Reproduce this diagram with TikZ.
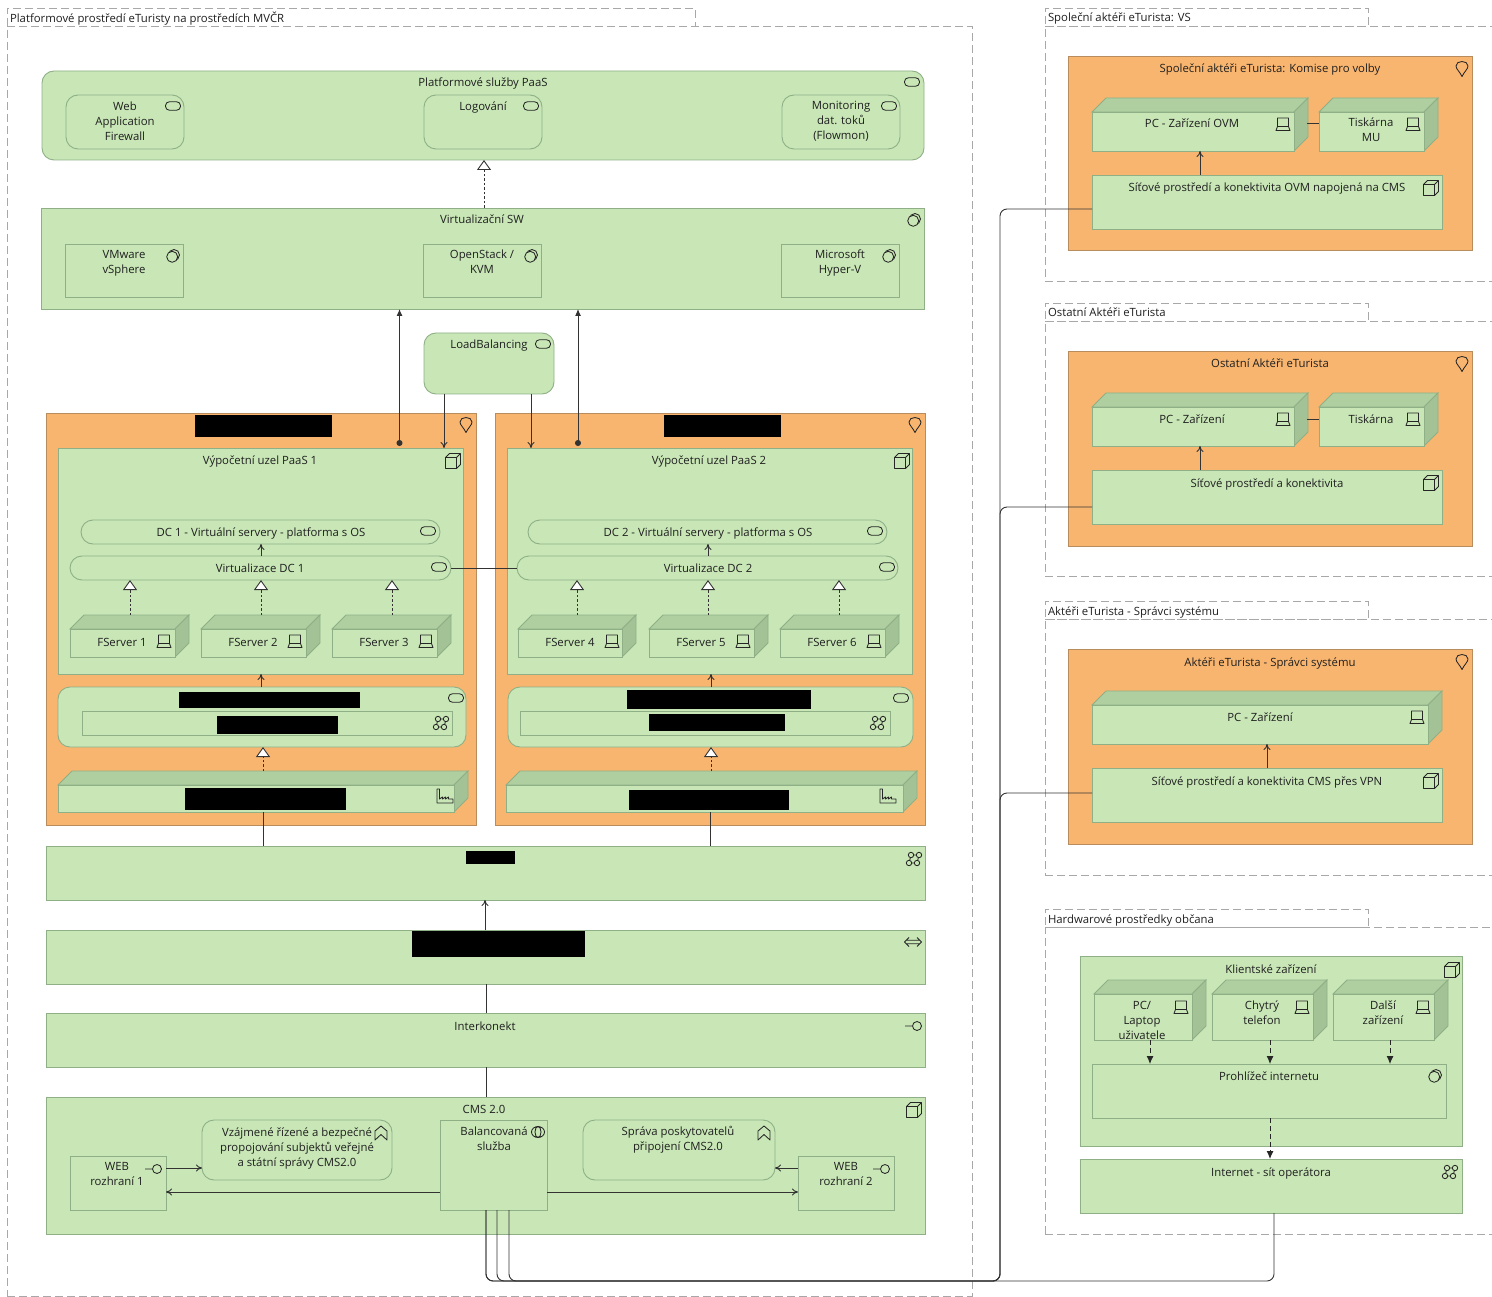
\documentclass[tikz,border=0pt]{standalone}
\usepackage{fontspec}
\setmainfont{Open Sans}
\usetikzlibrary{arrows.meta,calc}
\definecolor{gf}{HTML}{C8E6B6}
\definecolor{gs}{HTML}{8FB087}
\definecolor{gd}{HTML}{AFCFA0}
\definecolor{gdd}{HTML}{A3C396}
\definecolor{of}{HTML}{F8B56F}
\definecolor{os}{HTML}{B88C5C}
\definecolor{tc}{HTML}{1F1F1F}
\definecolor{lc}{HTML}{333333}
\definecolor{grp}{HTML}{A8A8A8}
\tikzset{
  greenbox/.style={draw=gs,fill=gf,line width=0.9pt},
  greenround/.style={greenbox,rounded corners=12pt},
  orangebox/.style={draw=os,fill=of,line width=0.9pt},
  hidebox/.style={fill=black},
  groupbox/.style={draw=grp,line width=0.7pt,dash pattern=on 8pt off 4pt},
  plainnode/.style={},
  txt/.style={text=tc,font=\fontsize{11.35}{15}\selectfont,align=center,inner sep=0pt,outer sep=0pt,yshift=-2pt,
     execute at begin node=\strut,execute at end node=\strut},
  grptxt/.style={txt,anchor=west},
  icon/.style={draw=black!85,line width=0.85pt,line join=round},
  conn/.style={draw=lc,line width=1pt},
  flow/.style={conn,-{To[length=6pt,width=7pt]}},
  solidhead/.style={conn,-{Latex[length=7pt,width=6pt]}},
  realize/.style={draw=lc,line width=0.9pt,dash pattern=on 2.5pt off 2pt,-{Triangle[open,fill=white,length=10pt,width=14pt,line width=0.9pt,sep=0pt]}},
  dashhead/.style={draw=black!85,line width=1pt,dash pattern=on 5pt off 3pt,-{Latex[length=8pt,width=7pt]}},
  dotted/.style={conn,{Circle[length=6pt]}-{Latex[length=7pt,width=6pt]}},
  bus/.style={draw=lc,line width=0.9pt,rounded corners=7pt},
}
\newcounter{lb}
\newcommand{\tx}[3]{\stepcounter{lb}\node[txt] (lb\arabic{lb}) at (#1,#2) {#3};}
\newcommand{\bxn}[6]{\node[#6,inner sep=0pt,outer sep=0pt,minimum width={(#4-#2)*1pt},minimum height={(#5-#3)*1pt}] (#1) at ({(#2+#4)/2},{(#3+#5)/2}) {};}
% 3D element: name, left, back top, back right, front bottom
\newcommand{\threed}[5]{%
 \bxn{#1}{#2}{#3}{#4}{#5}{plainnode}
 \fill[gf] ({#2},{#3+14}) rectangle ({#4-14},#5);
 \draw[greenbox,fill=gd] (#2,{#3+14}) -- ({#2+14},#3) -- (#4,#3) -- ({#4-14},{#3+14}) -- cycle;
 \draw[greenbox,fill=gdd] ({#4-14},{#3+14}) -- (#4,#3) -- (#4,{#5-14}) -- ({#4-14},#5) -- cycle;
 \draw[greenbox,fill=gf] (#2,{#3+14}) rectangle ({#4-14},#5);
}
% group: name, left, tabtop, tabright, bodytop, bodyright, bodybottom, title
\newcommand{\grpb}[8]{%
 \bxn{#1}{#2}{#3}{#4}{#5}{groupbox}
 \bxn{#1b}{#2}{#5}{#6}{#7}{groupbox}
 \stepcounter{lb}\node[grptxt] (lb\arabic{lb}) at ({#2+3},{(#3+#5)/2}) {#8};
}
\newcommand{\icpill}[2]{\draw[icon,rounded corners=3.8pt,shift={(#1,#2)}] (-7.5,-4.2) rectangle (7.5,4.2);}
\newcommand{\icdev}[2]{\draw[icon,shift={(#1,#2)}] (-5.5,2.5) -- (-5.5,-6) -- (5.5,-6) -- (5.5,2.5) -- cycle (-5.5,2.5) -- (-7,6.5) -- (7,6.5) -- (5.5,2.5);}
\newcommand{\iccube}[2]{\draw[icon,shift={(#1,#2)}] (-7.5,-3.5) rectangle (3.5,7.5) (-7.5,-3.5) -- (-3.5,-7.5) -- (7.5,-7.5) -- (7.5,3.5) -- (3.5,7.5) (3.5,-3.5) -- (7.5,-7.5);}
\newcommand{\icpin}[2]{\draw[icon,shift={(#1,#2)}] (0,7.5) .. controls (-2,3) and (-6,0) .. (-6,-3) .. controls (-6,-6) and (-3,-7.5) .. (0,-7.5) .. controls (3,-7.5) and (6,-6) .. (6,-3) .. controls (6,0) and (2,3) .. (0,7.5) -- cycle;}
\newcommand{\icsys}[2]{\draw[icon,shift={(#1,#2)}] (1,-1) circle[radius=5.5pt];\draw[icon,fill=gf,shift={(#1,#2)}] (-0.8,0.8) circle[radius=5.5pt];}
\newcommand{\icnet}[2]{\draw[icon,shift={(#1,#2)}] (-3,-4) -- (5,-4) -- (3,4) -- (-5,4) -- cycle;
 \draw[icon,fill=gf,shift={(#1,#2)}] (-3,-4) circle[radius=2.7pt] (5,-4) circle[radius=2.7pt] (3,4) circle[radius=2.7pt] (-5,4) circle[radius=2.7pt];}
\newcommand{\icfac}[2]{\draw[icon,shift={(#1,#2)}] (-8,7) -- (-8,-7) -- (-5.5,-7) -- (-5.5,3) -- (-2.5,1) -- (-2.5,3) -- (0.5,1) -- (0.5,3) -- (3.5,1) -- (3.5,3) -- (8,3) -- (8,7) -- cycle;}
\newcommand{\icint}[2]{\draw[icon,shift={(#1,#2)}] (-12,0) -- (-4.5,0) (0,0) circle[radius=4.5pt];}
\newcommand{\icfunc}[2]{\draw[icon,shift={(#1,#2)}] (-6,7) -- (-6,-2) -- (0,-7) -- (6,-2) -- (6,7) -- (0,1.5) -- cycle;}
\newcommand{\icpath}[2]{\draw[icon,shift={(#1,#2)}] (-4,-4.5) -- (-8.5,0) -- (-4,4.5) (4,-4.5) -- (8.5,0) -- (4,4.5) (-6.5,-1.7) -- (6.5,-1.7) (-6.5,1.7) -- (6.5,1.7);}
\newcommand{\icbal}[2]{\draw[icon,shift={(#1,#2)}] (0,0) circle[x radius=6.5pt,y radius=5.5pt] (0,0) circle[x radius=3pt,y radius=5.5pt];}
\begin{document}
\begin{tikzpicture}[x=1pt,y=-1pt]
\useasboundingbox (0,0) rectangle (1492,1297);
\fill[white] (0,0) rectangle (1492,1297);
% ---- groups
\grpb{g1}{7}{8}{695}{26}{972}{1296}{Platformové prostředí eTuristy na prostředích MVČR}
\grpb{g2}{1045}{8}{1368}{26}{1510}{281}{Společní aktéři eTurista: VS}
\grpb{g3}{1045}{303}{1368}{321}{1510}{576}{Ostatní Aktéři eTurista}
\grpb{g4}{1045}{601}{1368}{619}{1510}{875}{Aktéři eTurista - Správci systému}
\grpb{g5}{1045}{909}{1368}{927}{1510}{1234}{Hardwarové prostředky občana}
% ---- PaaS
\bxn{paas}{42}{71}{924}{160}{greenround}
\tx{483}{82}{Platformové služby PaaS}\icpill{912}{82}
\bxn{waf}{66}{95}{184}{149}{greenround}
\tx{125}{121}{Web\\Application\\Firewall}\icpill{173}{106}
\bxn{logov}{424}{95}{542}{149}{greenround}
\tx{483}{106}{Logování}\icpill{531}{106}
\bxn{monit}{782}{95}{900}{149}{greenround}
\tx{841}{121}{Monitoring\\dat. toků\\(Flowmon)}\icpill{889}{106}
% ---- Virtualization
\bxn{virt}{41}{208}{924}{309}{greenbox}
\tx{482}{219}{Virtualizační SW}\icsys{914}{220}
\bxn{vmw}{65}{244}{183}{297}{greenbox}
\tx{124}{262}{VMware\\vSphere}\icsys{173}{256}
\bxn{ostk}{423}{244}{541}{297}{greenbox}
\tx{482}{262}{OpenStack /\\KVM}\icsys{531}{256}
\bxn{hyper}{781}{244}{899}{297}{greenbox}
\tx{840}{262}{Microsoft\\Hyper-V}\icsys{889}{256}
\bxn{lbal}{424}{333}{554}{394}{greenround}
\tx{489}{344}{LoadBalancing}\icpill{543}{344}
% ---- Location 1
\bxn{loc1}{46}{413}{476}{825}{orangebox}
\bxn{hide1}{195}{415}{332}{437}{hidebox}\icpin{466}{425}
\bxn{comp1}{58}{448}{463}{674}{greenbox}
\tx{260}{459}{Výpočetní uzel PaaS 1}\iccube{453}{461}
\bxn{dc1}{81}{520}{440}{544}{greenround}
\tx{261}{531}{DC 1 - Virtuální servery - platforma s OS}\icpill{428}{531}
\bxn{vdc1}{70}{556}{451}{580}{greenround}
\tx{260}{567}{Virtualizace DC 1}\icpill{439}{567}
\threed{fs1}{70}{615}{189}{657}\tx{122}{641}{FServer 1}\icdev{164}{641}
\threed{fs2}{201}{615}{320}{657}\tx{253}{641}{FServer 2}\icdev{295}{641}
\threed{fs3}{332}{615}{451}{657}\tx{384}{641}{FServer 3}\icdev{426}{641}
\bxn{svc1}{58}{687}{466}{747}{greenround}
\bxn{snet1}{82}{711}{452}{735}{greenbox}
\bxn{hide2}{179}{692}{360}{708}{hidebox}
\bxn{hide3}{217}{716}{338}{734}{hidebox}\icpill{456}{698}\icnet{441}{723}
\threed{fac1}{58}{771}{468}{812}
\bxn{hide4}{185}{788}{346}{810}{hidebox}\icfac{445}{796}
% ---- Location 2
\bxn{loc2}{495}{413}{925}{825}{orangebox}
\bxn{hide5}{664}{415}{781}{437}{hidebox}\icpin{915}{425}
\bxn{comp2}{507}{448}{912}{674}{greenbox}
\tx{709}{459}{Výpočetní uzel PaaS 2}\iccube{902}{461}
\bxn{dc2}{528}{520}{887}{544}{greenround}
\tx{708}{531}{DC 2 - Virtuální servery - platforma s OS}\icpill{875}{531}
\bxn{vdc2}{517}{556}{898}{580}{greenround}
\tx{708}{567}{Virtualizace DC 2}\icpill{887}{567}
\threed{fs4}{518}{615}{636}{657}\tx{570}{641}{FServer 4}\icdev{612}{641}
\threed{fs5}{649}{615}{768}{657}\tx{701}{641}{FServer 5}\icdev{743}{641}
\threed{fs6}{780}{615}{899}{657}\tx{832}{641}{FServer 6}\icdev{874}{641}
\bxn{svc2}{508}{687}{913}{747}{greenround}
\bxn{snet2}{520}{711}{890}{735}{greenbox}
\bxn{hide6}{627}{690}{811}{709}{hidebox}
\bxn{hide7}{649}{714}{785}{731}{hidebox}\icpill{901}{698}\icnet{878}{723}
\threed{fac2}{506}{771}{917}{812}
\bxn{hide8}{629}{790}{789}{810}{hidebox}\icfac{888}{796}
% ---- lower stack
\bxn{netb}{46}{846}{925}{900}{greenbox}
\bxn{hide9}{466}{851}{515}{864}{hidebox}\icnet{914}{859}
\bxn{pathb}{46}{930}{925}{984}{greenbox}
\bxn{hide10}{412}{931}{585}{957}{hidebox}\icpath{913}{942}
\bxn{inter}{46}{1013}{925}{1067}{greenbox}
\tx{485}{1025}{Interkonekt}\icint{917}{1026}
\bxn{cms}{46}{1097}{925}{1234}{greenbox}
\tx{484}{1108}{CMS 2.0}\iccube{914}{1110}
\bxn{web1}{70}{1156}{166}{1210}{greenbox}
\tx{117}{1174}{WEB\\rozhraní 1}\icint{157}{1169}
\bxn{func1}{202}{1120}{392}{1180}{greenround}
\tx{297}{1147}{Vzájmené řízené a bezpečné\\propojování subjektů veřejné\\a státní správy CMS2.0}\icfunc{381}{1133}
\bxn{bal}{440}{1120}{547}{1210}{greenbox}
\tx{494}{1139}{Balancovaná\\služba}\icbal{538}{1132}
\bxn{func2}{583}{1120}{775}{1180}{greenround}
\tx{678}{1139}{Správa poskytovatelů\\připojení CMS2.0}\icfunc{764}{1133}
\bxn{web2}{798}{1156}{894}{1210}{greenbox}
\tx{846}{1174}{WEB\\rozhraní 2}\icint{885}{1169}
% ---- right: VS
\bxn{loca}{1068}{56}{1472}{250}{orangebox}
\tx{1270}{68}{Společní aktéři eTurista: Komise pro volby}\icpin{1462}{69}
\threed{pca}{1092}{98}{1308}{151}\tx{1192}{123}{PC - Zařízení OVM}\icdev{1283}{124}
\threed{tia}{1319}{98}{1438}{151}\tx{1371}{130}{Tiskárna\\MU}\icdev{1413}{124}
\bxn{neta}{1092}{175}{1442}{229}{greenbox}
\tx{1267}{187}{Síťové prostředí a konektivita OVM napojená na CMS}\iccube{1431}{188}
% ---- right: Ostatni
\bxn{locb}{1068}{351}{1472}{546}{orangebox}
\tx{1270}{362}{Ostatní Aktéři eTurista}\icpin{1462}{364}
\threed{pcb}{1092}{393}{1308}{446}\tx{1192}{418}{PC - Zařízení}\icdev{1283}{419}
\threed{tib}{1319}{393}{1438}{446}\tx{1371}{418}{Tiskárna}\icdev{1413}{419}
\bxn{netc}{1092}{470}{1442}{524}{greenbox}
\tx{1267}{482}{Síťové prostředí a konektivita}\iccube{1431}{483}
% ---- right: Spravci
\bxn{locc}{1068}{649}{1472}{844}{orangebox}
\tx{1270}{661}{Aktéři eTurista - Správci systému}\icpin{1462}{662}
\threed{pcc}{1092}{691}{1442}{744}\tx{1260}{716}{PC - Zařízení}\icdev{1417}{717}
\bxn{netd}{1092}{768}{1442}{822}{greenbox}
\tx{1267}{780}{Síťové prostředí a konektivita CMS přes VPN}\iccube{1431}{781}
% ---- right: Hardware
\bxn{klient}{1080}{956}{1462}{1146}{greenbox}
\tx{1271}{968}{Klientské zařízení}\iccube{1452}{970}
\threed{cpc}{1094}{980}{1206}{1040}\tx{1142}{1021}{PC/\\Laptop\\uživatele}\icdev{1181}{1007}
\threed{cph}{1212}{980}{1327}{1040}\tx{1262}{1013}{Chytrý\\telefon}\icdev{1302}{1007}
\threed{cot}{1333}{980}{1448}{1040}\tx{1383}{1013}{Další\\zařízení}\icdev{1423}{1007}
\bxn{prohl}{1092}{1064}{1446}{1118}{greenbox}
\tx{1269}{1075}{Prohlížeč internetu}\icsys{1435}{1076}
\bxn{inet}{1080}{1159}{1462}{1213}{greenbox}
\tx{1271}{1171}{Internet - sít operátora}\icnet{1450}{1172}
% ---- connectors
\draw[realize] (484,0 |- virt.north) -- (484,0 |- paas.south);
\draw[dotted] (399.5,0 |- comp1.north) ++(0,-2) -- (399.5,0 |- virt.south);
\draw[dotted] (578,0 |- comp2.north) ++(0,-2) -- (578,0 |- virt.south);
\draw[flow] (444,0 |- lbal.south) -- (444,0 |- comp1.north);
\draw[flow] (531,0 |- lbal.south) -- (531,0 |- comp2.north);
\draw[flow] (261,0 |- vdc1.north) -- (261,0 |- dc1.south);
\draw[flow] (708,0 |- vdc2.north) -- (708,0 |- dc2.south);
\draw[conn] (vdc1.east) -- (vdc2.west);
\draw[realize] (130,0 |- fs1.north) -- (130,0 |- vdc1.south);
\draw[realize] (261,0 |- fs2.north) -- (261,0 |- vdc1.south);
\draw[realize] (392,0 |- fs3.north) -- (392,0 |- vdc1.south);
\draw[realize] (577,0 |- fs4.north) -- (577,0 |- vdc2.south);
\draw[realize] (708,0 |- fs5.north) -- (708,0 |- vdc2.south);
\draw[realize] (839,0 |- fs6.north) -- (839,0 |- vdc2.south);
\draw[flow] (261,0 |- svc1.north) -- (261,0 |- comp1.south);
\draw[flow] (711,0 |- svc2.north) -- (711,0 |- comp2.south);
\draw[realize] (263,0 |- fac1.north) -- (263,0 |- svc1.south);
\draw[realize] (711,0 |- fac2.north) -- (711,0 |- svc2.south);
\draw[conn] (263,0 |- fac1.south) -- (263,0 |- netb.north);
\draw[conn] (710,0 |- fac2.south) -- (710,0 |- netb.north);
\draw[flow] (485,0 |- pathb.north) -- (485,0 |- netb.south);
\draw[conn] (486,0 |- pathb.south) -- (486,0 |- inter.north);
\draw[conn] (486,0 |- inter.south) -- (486,0 |- cms.north);
\draw[flow] (web1.east |- 0,1168) -- (func1.west |- 0,1168);
\draw[flow] (bal.west |- 0,1192) -- (web1.east |- 0,1192);
\draw[flow] (bal.east |- 0,1192) -- (web2.west |- 0,1192);
\draw[flow] (web2.west |- 0,1168) -- (func2.east |- 0,1168);
\coordinate (busturn) at (1000,1281);
\draw[bus] (486,0 |- bal.south) |- (busturn) |- (neta.west |- 0,209);
\draw[bus] (497,0 |- bal.south) |- (busturn) |- (netc.west |- 0,507);
\draw[bus] (509,0 |- bal.south) |- (busturn) |- (netd.west |- 0,793);
\draw[bus] (486,0 |- bal.south) |- (1274,1281) -- (1274,0 |- inet.south);
\draw[conn] (1307,124) -- (tia.west |- 0,124);
\draw[conn] (1307,419) -- (tib.west |- 0,419);
\draw[flow] (1200,0 |- neta.north) -- (1200,0 |- pca.south);
\draw[flow] (1200,0 |- netc.north) -- (1200,0 |- pcb.south);
\draw[flow] (1267,0 |- netd.north) -- (1267,0 |- pcc.south);
\draw[dashhead] (1150,0 |- cpc.south) -- (1150,0 |- prohl.north);
\draw[dashhead] (1270,0 |- cph.south) -- (1270,0 |- prohl.north);
\draw[dashhead] (1390,0 |- cot.south) -- (1390,0 |- prohl.north);
\draw[dashhead] (1270,0 |- prohl.south) -- (1270,0 |- inet.north);
\end{tikzpicture}
\end{document}
